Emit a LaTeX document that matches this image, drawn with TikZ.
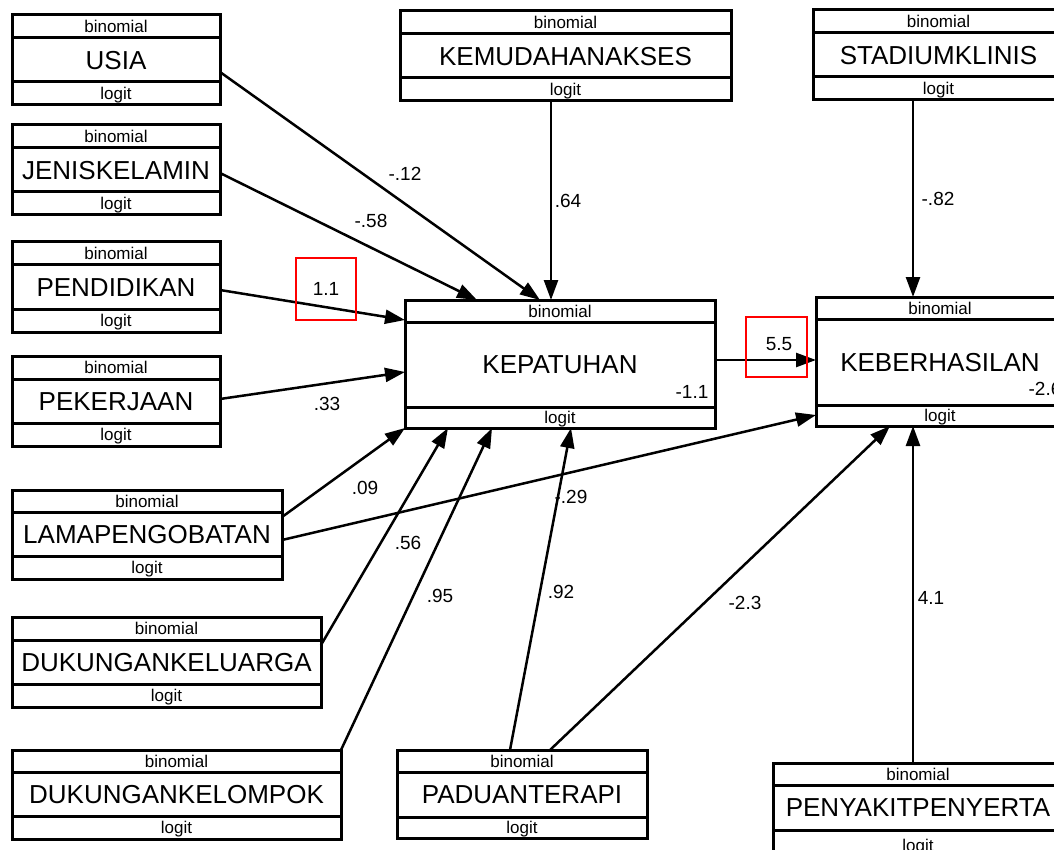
\documentclass[tikz,border=0pt]{standalone}
\usepackage{fontspec}
\setmainfont{Liberation Sans}
\usetikzlibrary{arrows.meta,fit}

% One observed variable: frame with distribution row, name row and link row.
% #1 name, #2 left, #3 top, #4 right, #5 first rule, #6 second rule, #7 bottom, #8 label
\newcommand\varbox[8]{%
  \coordinate (#1-nw) at (#2,#3);
  \coordinate (#1-se) at (#4,#7);
  \node[frame, fit=(#1-nw)(#1-se)] (#1) {};
  \draw[rowrule] (#2,#5) -- (#4,#5);
  \draw[rowrule] (#2,#6) -- (#4,#6);
  \path (#2,#3) -- (#4,#5) node[midway, smalltext] (#1-dist) {binomial};
  \path (#2,#5) -- (#4,#6) node[midway, bigtext] (#1-name) {#8};
  \path (#2,#6) -- (#4,#7) node[midway, smalltext] (#1-link) {logit};
}

\tikzset{
  frame/.style={draw, line width=3pt, inner sep=0pt, outer sep=0pt},
  rowrule/.style={line width=3pt},
  smalltext/.style={font=\fontsize{17}{17}\selectfont, inner sep=0pt,
    text height=12pt, text depth=0pt},
  bigtext/.style={font=\fontsize{26}{26}\selectfont, inner sep=0pt,
    text height=18.6pt, text depth=0pt},
  coef/.style={font=\fontsize{19}{19}\selectfont, inner sep=0pt,
    text height=13.6pt, text depth=0pt},
  hilite/.style={coef, draw=red, line width=2pt, minimum width=60pt, minimum height=61pt},
  path/.style={line width=2.5pt, -{Triangle[length=20pt,width=14pt]}}
}

\begin{document}
\begin{tikzpicture}[x=1pt, y=-1pt]
\useasboundingbox (0,0) rectangle (1054,850);
\clip (0,0) rectangle (1054,850);

% exogenous variables on the left
\varbox{usia}{12}{15}{220}{38}{82}{105}{USIA}
\varbox{jenis}{12}{125}{220}{148}{192}{215}{JENISKELAMIN}
\varbox{didik}{12}{242}{220}{265}{309}{332}{PENDIDIKAN}
\varbox{kerja}{12}{356}{220}{379}{423}{446}{PEKERJAAN}
\varbox{lama}{12}{490}{282}{512}{556}{579}{LAMAPENGOBATAN}
\varbox{keluarga}{12}{617}{321}{640}{684}{707}{DUKUNGANKELUARGA}
\varbox{kelompok}{12}{750}{341}{772}{816}{839}{DUKUNGANKELOMPOK}

% top row
\varbox{akses}{400}{11}{731}{34}{78}{101}{KEMUDAHANAKSES}
\varbox{stadium}{813}{10}{1064}{33}{77}{100}{STADIUMKLINIS}

% endogenous variables
\varbox{kep}{405}{300}{715}{322}{407}{428}{KEPATUHAN}
\varbox{keb}{816}{297}{1064}{319}{405}{426}{KEBERHASILAN}

% bottom row
\varbox{paduan}{397}{750}{647}{772}{817}{838}{PADUANTERAPI}
\varbox{penyakit}{773}{763}{1063}{785}{830}{860}{PENYAKITPENYERTA}

% intercepts
\node[coef] (kep-int) at (692,392) {-1.1};
\node[coef] (keb-int) at (1045,389) {-2.6};

% paths into KEPATUHAN
\draw[path] (usia.east |- 0,72) -- (kep.north -| 540,0);
\draw[path] (jenis.east |- 0,173) -- (kep.north -| 477,0);
\draw[path] (didik.east |- 0,290) -- (kep.west |- 0,320);
\draw[path] (kerja.east |- 0,399) -- (kep.west |- 0,372);
\draw[path] (akses.south -| 551,0) -- (kep.north -| 551,0);
\draw[path] (lama.east |- 0,517) -- (kep.south west);
\draw[path] (keluarga.east |- 0,645) -- (kep.south -| 448,0);
\draw[path] (kelompok.north -| 341,0) -- (kep.south -| 492,0);
\draw[path] (paduan.north -| 510,0) -- (kep.south -| 571,0);

% paths into KEBERHASILAN
\draw[path] (kep.east |- 0,360) -- (keb.west |- 0,360);
\draw[path] (stadium.south -| 913,0) -- (keb.north -| 913,0);
\draw[path] (lama.east |- 0,540) -- (keb.west |- 0,415);
\draw[path] (paduan.north -| 550,0) -- (keb.south -| 890,0);
\draw[path] (penyakit.north -| 913,0) -- (keb.south -| 913,0);

% coefficients
\node[coef] (c-usia) at (405,174) {-.12};
\node[coef] (c-jenis) at (371,221) {-.58};
\node[hilite] (c-didik) at (326,289) {1.1};
\node[coef] (c-kerja) at (327,404) {.33};
\node[coef] (c-akses) at (568,201) {.64};
\node[coef] (c-stadium) at (938,199) {-.82};
\node[coef] (c-lamakep) at (365,488) {.09};
\node[coef] (c-lamakeb) at (571,497) {-.29};
\node[coef] (c-keluarga) at (408,543) {.56};
\node[coef] (c-kelompok) at (440,596) {.95};
\node[coef] (c-paduankep) at (561,592) {.92};
\node[coef] (c-paduankeb) at (745,603) {-2.3};
\node[coef] (c-penyakit) at (931,598) {4.1};
\node[coef] (c-kep) at (779,344) {5.5};
\node[draw=red, line width=2pt, minimum width=61pt, minimum height=60pt, inner sep=0pt] (c-kep-mark) at (776.5,347) {};
\end{tikzpicture}
\end{document}
